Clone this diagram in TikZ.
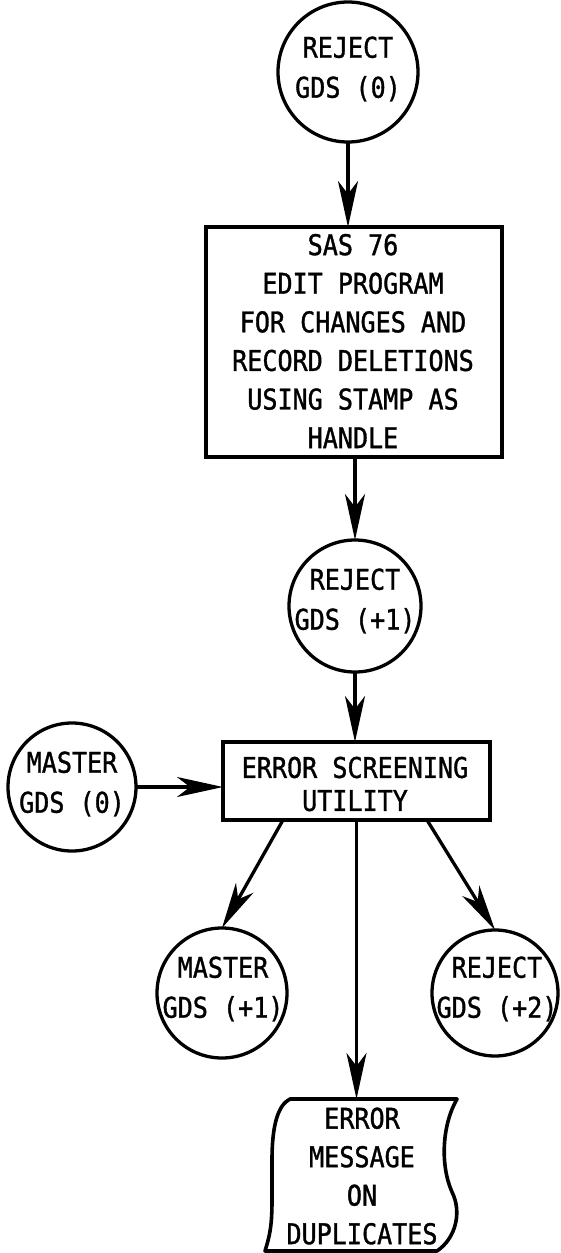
\documentclass[tikz,border=0pt]{standalone}
\usepackage{fontspec}
\newfontfamily\lettering[FakeStretch=0.88,FakeBold=1.2]{DejaVu Sans Mono}
\usetikzlibrary{arrows.meta}
\begin{document}
\begin{tikzpicture}[x=1pt,y=-1pt,
  txt/.style={font=\lettering\fontsize{28.5}{40}\selectfont, align=center, inner sep=0pt, outer sep=0pt},
  circ/.style={draw, circle, line width=3.3pt, inner sep=0pt, outer sep=0pt},
  boxnode/.style={draw, rectangle, line width=3.6pt, inner sep=0pt, outer sep=0pt},
  flow/.style={line width=3.3pt, -{Stealth[length=46pt,width=20pt,inset=13pt]}},
  docline/.style={line width=3.6pt, line join=round},
]
\useasboundingbox (0,0) rectangle (560,1253);

% shapes
\node[circ, minimum size=140pt] (r0) at (348,72) {};
\node[txt] (r0t) at (348,69) {REJECT\\GDS (0)};

\node[boxnode, minimum width=296pt, minimum height=230pt] (box1) at (354,342) {};
\node[txt, font=\lettering\fontsize{28.5}{38.6}\selectfont] (box1t) at (353,341)
  {SAS 76\\EDIT PROGRAM\\FOR CHANGES AND\\RECORD DELETIONS\\USING STAMP AS\\HANDLE};

\node[circ, minimum size=132pt] (r1) at (355,606) {};
\node[txt] (r1t) at (355,601) {REJECT\\GDS (+1)};

\node[boxnode, minimum width=267pt, minimum height=78pt] (box2) at (356.5,781) {};
\node[txt, font=\lettering\fontsize{28.5}{33}\selectfont] (box2t) at (355,784) {ERROR SCREENING\\UTILITY};

\node[circ, minimum size=128pt] (m0) at (72,787) {};
\node[txt] (m0t) at (72,784) {MASTER\\GDS (0)};

\node[circ, minimum size=130pt] (m1) at (222,993) {};
\node[txt] (m1t) at (223,989) {MASTER\\GDS (+1)};

\node[circ, minimum size=126pt] (r2) at (495,993) {};
\node[txt] (r2t) at (497,989) {REJECT\\GDS (+2)};

% document shape
\coordinate (dtl) at (290,1099);
\coordinate (dtr) at (457,1099);
\coordinate (dbr) at (437,1251);
\coordinate (dbl) at (265,1251);
\draw[docline] (dtl) -- (dtr)
  .. controls (442,1125) and (440,1165) .. (452,1192)
  .. controls (462,1212) and (456,1238) .. (dbr)
  -- (dbl)
  .. controls (270,1235) and (272,1225) .. (272,1200)
  -- (272,1160)
  .. controls (272,1125) and (278,1105) .. (dtl) -- cycle;
\coordinate (dtop) at (box2.south |- dtl);
\node[txt, font=\lettering\fontsize{28.5}{38.5}\selectfont] (doc) at (362,1176)
  {ERROR\\MESSAGE\\ON\\DUPLICATES};

% connectors
\draw[flow] (r0.south) -- (r0.south |- box1.north);
\draw[flow] (r1.north |- box1.south) -- (r1.north);
\draw[flow] (r1.south) -- (r1.south |- box2.north);
\draw[flow] (m0.east) -- (m0.east -| box2.west);
\draw[flow] ([xshift=60pt]box2.south west) -- (m1.north);
\draw[flow] ([xshift=-63pt]box2.south east) -- (r2.north);
\draw[flow] (box2.south) -- (dtop);
\end{tikzpicture}
\end{document}
